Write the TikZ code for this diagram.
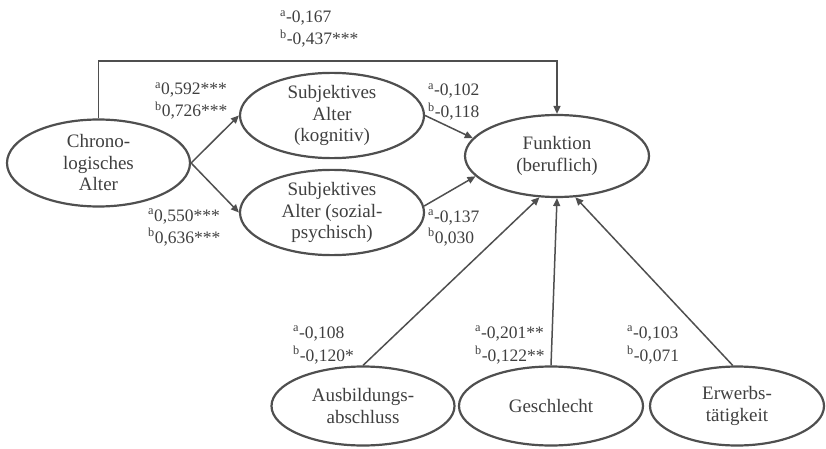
\documentclass[tikz,border=0pt]{standalone}
\usepackage{fontspec}
\setmainfont{Liberation Serif}
\usetikzlibrary{shapes.geometric,arrows.meta,calc}
\definecolor{ln}{HTML}{4F4F4F}
\definecolor{tx}{HTML}{3F3F3F}
\newcommand{\sa}{\textsuperscript{a}}
\newcommand{\sbb}{\textsuperscript{b}}
\tikzset{
  ell/.style={ellipse, draw=ln, line width=2.2pt, inner sep=0pt, align=center,
    text=tx, font=\fontsize{19}{21.5}\selectfont},
  lab/.style={anchor=base west, inner sep=0pt, text=tx, font=\fontsize{17.5}{22}\selectfont},
  arr/.style={draw=ln, line width=1.5pt, -{Triangle[length=8pt,width=7pt]}},
}
\begin{document}
\begin{tikzpicture}[x=1pt,y=-1pt]
\useasboundingbox (0,0) rectangle (826,449);
% nodes
\node[ell, minimum width=183pt, minimum height=87pt] (chrono) at (98.5,163) {Chrono-\\logisches\\Alter};
\node[ell, minimum width=184pt, minimum height=79pt] (kog) at (332,115.5) {Subjektives\\Alter\\(kognitiv)};
\node[ell, minimum width=184pt, minimum height=76pt] (soz) at (332,212.5) {Subjektives\\Alter (sozial-\\psychisch)};
\node[ell, minimum width=184pt, minimum height=82pt] (fkt) at (557,156) {Funktion\\(beruflich)};
\node[ell, minimum width=183pt, minimum height=79pt] (ausb) at (363,406) {Ausbildungs-\\abschluss};
\node[ell, minimum width=184pt, minimum height=79pt] (gesch) at (551,406) {Geschlecht};
\node[ell, minimum width=174pt, minimum height=79pt] (erw) at (737,406) {Erwerbs-\\tätigkeit};
% connectors
\coordinate (topbar) at (0,61);
\draw[arr] (chrono.north) -- (chrono.north |- topbar) -| (fkt.north);
\draw[arr] (chrono.east) -- (kog.west);
\draw[arr] (chrono.east) -- (soz.west);
\draw[arr] (kog.east) -- (fkt.168);
\draw[arr] (soz.4) -- (fkt.194);
\draw[arr] (ausb.north) -- (fkt.247);
\draw[arr] (gesch.north) -- (fkt.south);
\draw[arr] (erw.96) -- (fkt.294);
% labels
\node[lab] (t1) at (280,23) {\sa-0,167};
\node[lab] (t2) at (280,45) {\sbb-0,437***};
\node[lab] (k1) at (155,95) {\sa0,592***};
\node[lab] (k2) at (155,117) {\sbb0,726***};
\node[lab] (s1) at (148,221) {\sa0,550***};
\node[lab] (s2) at (148,243) {\sbb0,636***};
\node[lab] (f1) at (428,96) {\sa-0,102};
\node[lab] (f2) at (428,118) {\sbb-0,118};
\node[lab] (g1) at (428,222) {\sa-0,137};
\node[lab] (g2) at (428,243) {\sbb0,030};
\node[lab] (a1) at (293,338) {\sa-0,108};
\node[lab] (a2) at (293,361) {\sbb-0,120*};
\node[lab] (b1) at (475,338) {\sa-0,201**};
\node[lab] (b2) at (475,361) {\sbb-0,122**};
\node[lab] (c1) at (627,338) {\sa-0,103};
\node[lab] (c2) at (627,361) {\sbb-0,071};
\end{tikzpicture}
\end{document}
